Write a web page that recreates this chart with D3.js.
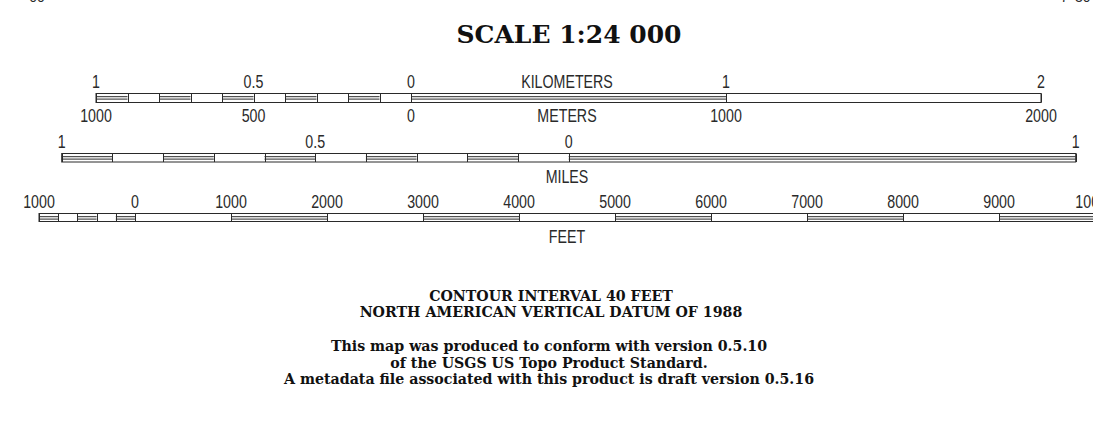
<!DOCTYPE html>
<html>
<head>
<meta charset="utf-8">
<script src="https://cdn.jsdelivr.net/npm/d3@7"></script>
<style>
  html, body { margin: 0; padding: 0; background: #fff; }
  svg { display: block; }
</style>
</head>
<body>
<div id="chart"></div>
<script>
// ---------- data ----------
const titleText = "SCALE 1:24 000";

const kmBreaks = [-1, -0.9, -0.8, -0.7, -0.6, -0.5, -0.4, -0.3, -0.2, -0.1, 0, 1, 2];
const kmFill   = [1, 0, 1, 0, 1, 0, 1, 0, 1, 0, 1, 0];
const kmTicks  = [-1, -0.5, 0, 1, 2];
const kmTickLabels = ["1", "0.5", "0", "1", "2"];
const mTickLabels  = ["1000", "500", "0", "1000", "2000"];

const miBreaks = [-1, -0.9, -0.8, -0.7, -0.6, -0.5, -0.4, -0.3, -0.2, -0.1, 0, 1];
const miFill   = [1, 0, 1, 0, 1, 0, 1, 0, 1, 0, 1];
const miTicks  = [-1, -0.5, 0, 1];
const miTickLabels = ["1", "0.5", "0", "1"];

const ftBreaks = [-1000, -800, -600, -400, -200, 0, 1000, 2000, 3000, 4000, 5000, 6000, 7000, 8000, 9000, 10000];
const ftFill   = [1, 0, 1, 0, 1, 0, 1, 0, 1, 0, 1, 0, 1, 0, 1];
const ftTicks  = [-1000, 0, 1000, 2000, 3000, 4000, 5000, 6000, 7000, 8000, 9000, 10000];
const ftTickLabels = ["1000", "0", "1000", "2000", "3000", "4000", "5000", "6000", "7000", "8000", "9000", "10000"];

const notesA = ["CONTOUR INTERVAL 40 FEET", "NORTH AMERICAN VERTICAL DATUM OF 1988"];
const notesB = ["This map was produced to conform with version 0.5.10",
                "of the USGS US Topo Product Standard.",
                "A metadata file associated with this product is draft version 0.5.16"];

// ---------- layout ----------
const W = 1093, H = 442;
const svg = d3.select("#chart").append("svg").attr("width", W).attr("height", H);

const sansFont = "'Liberation Sans', Arial, sans-serif";
const serifFont = "'DejaVu Serif', 'Liberation Serif', serif";
const ink = "#2a2a2a";
const narrow = 0.79;   // condensed look for the scale-bar labels
const labelSize = 18;

// scales (1:24000 -> 0.315 px per metre on this picture)
const xKm = d3.scaleLinear().domain([-1, 2]).range([96, 1041]);
const xMi = d3.scaleLinear().domain([-1, 1]).range([61.7, 1075.7]);
const xFt = d3.scaleLinear().domain([-1000, 10000]).range([39, 1095.1]);

function drawBar(scale, breaks, fill, top, h) {
  const g = svg.append("g");
  const segs = fill.map((f, i) => ({a: breaks[i], b: breaks[i + 1], f}));
  g.append("rect")
    .attr("x", scale(breaks[0])).attr("y", top)
    .attr("width", scale(breaks[breaks.length - 1]) - scale(breaks[0]))
    .attr("height", h)
    .attr("fill", "none").attr("stroke", ink).attr("stroke-width", 1);
  const inner = g.selectAll("g.seg").data(segs.filter(s => s.f)).join("g");
  [3.2, 5.6].forEach(dy => {
    inner.append("line")
      .attr("x1", d => scale(d.a)).attr("x2", d => scale(d.b))
      .attr("y1", top + dy).attr("y2", top + dy)
      .attr("stroke", ink).attr("stroke-width", 1);
  });
  g.selectAll("line.div").data(breaks).join("line")
    .attr("class", "div")
    .attr("x1", d => Math.round(scale(d)) + 0.5).attr("x2", d => Math.round(scale(d)) + 0.5)
    .attr("y1", top).attr("y2", top + h)
    .attr("stroke", ink).attr("stroke-width", 1);
}

function narrowText(sel, x, y) {
  sel.attr("transform", (d, i) => `translate(${typeof x === "function" ? x(d, i) : x},${y}) scale(${narrow},1)`)
    .attr("text-anchor", "middle")
    .attr("font-family", sansFont).attr("font-size", labelSize)
    .attr("fill", ink);
}
function labels(scale, ticks, texts, y) {
  const t = svg.append("g").selectAll("text").data(ticks).join("text")
    .text((d, i) => texts[i]);
  narrowText(t, d => scale(d), y);
}
function unitLabel(txt, y) {
  const t = svg.append("text").text(txt);
  narrowText(t, 567, y);
}

// partial texts clipped at the top edge
svg.append("text").attr("x", 37).attr("y", 2).attr("text-anchor", "middle")
  .attr("font-family", sansFont).attr("font-size", 14).attr("fill", ink).text("00");
svg.append("text").attr("x", 1078).attr("y", 2).attr("text-anchor", "middle")
  .attr("font-family", sansFont).attr("font-size", 14).attr("fill", ink).text("7' 30\"");

// title
svg.append("text").attr("x", 569).attr("y", 43).attr("text-anchor", "middle")
  .attr("font-family", serifFont).attr("font-weight", "bold").attr("font-size", 25)
  .attr("fill", "#111").text(titleText);

// km / m bar
drawBar(xKm, kmBreaks, kmFill, 93.5, 9);
labels(xKm, kmTicks, kmTickLabels, 88);
labels(xKm, kmTicks, mTickLabels, 121.5);
unitLabel("KILOMETERS", 88);
unitLabel("METERS", 121.5);

// miles bar
drawBar(xMi, miBreaks, miFill, 153.5, 8.5);
labels(xMi, miTicks, miTickLabels, 148);
unitLabel("MILES", 183);

// feet bar
drawBar(xFt, ftBreaks, ftFill, 213.5, 8);
labels(xFt, ftTicks, ftTickLabels, 208);
unitLabel("FEET", 243);

// notes
svg.append("g").selectAll("text").data(notesA).join("text")
  .attr("x", 551).attr("y", (d, i) => 301 + i * 15.5)
  .attr("text-anchor", "middle")
  .attr("font-family", serifFont).attr("font-weight", "bold").attr("font-size", 14.2)
  .attr("fill", "#111").text(d => d);

svg.append("g").selectAll("text").data(notesB).join("text")
  .attr("x", 549).attr("y", (d, i) => 351 + i * 16.5)
  .attr("text-anchor", "middle")
  .attr("font-family", serifFont).attr("font-weight", "bold").attr("font-size", 14.2)
  .attr("fill", "#111").text(d => d);
</script>
</body>
</html>
